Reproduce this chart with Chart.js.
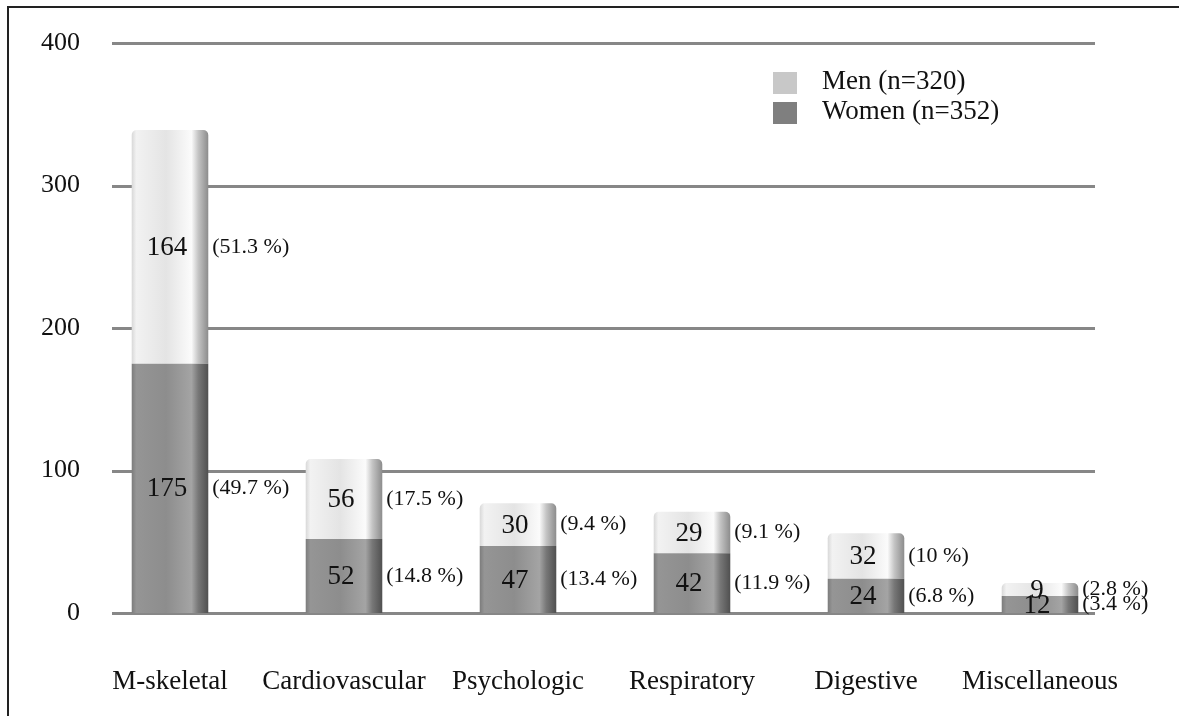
<!DOCTYPE html>
<html>
<head>
<meta charset="utf-8">
<script src="https://cdn.jsdelivr.net/npm/chart.js@4/dist/chart.umd.min.js"></script>
<style>
  html, body { margin: 0; padding: 0; background: #fff; }
  #wrap { position: relative; width: 1179px; height: 716px; overflow: hidden; }
  #frame { position: absolute; left: 7px; top: 6px; right: -10px; bottom: -10px;
           border-top: 2px solid #222; border-left: 2px solid #222; }
  #c { position: absolute; left: 0; top: 0; }
</style>
</head>
<body>
<div id="wrap">
  <div id="frame"></div>
  <canvas id="c" width="1179" height="716"></canvas>
</div>
<script>
// données
const categories = ['M-skeletal', 'Cardiovascular', 'Psychologic', 'Respiratory', 'Digestive', 'Miscellaneous'];
const women = [175, 52, 47, 42, 24, 12];
const men = [164, 56, 30, 29, 32, 9];
const womenPct = ['49.7', '14.8', '13.4', '11.9', '6.8', '3.4'];
const menPct = ['51.3', '17.5', '9.4', '9.1', '10', '2.8'];
const yTicks = [0, 100, 200, 300, 400];

const SERIF = '"Liberation Serif", "DejaVu Serif", serif';
const BAR_PCT = 0.44;

// dégradé horizontal pour l'effet "cylindre"
function barFill(light) {
  return ctx => {
    const chart = ctx.chart;
    const xs = chart.scales && chart.scales.x;
    const flat = light ? '#e6e6e6' : '#8e8e8e';
    if (!xs || ctx.dataIndex === undefined) return flat;
    const cx = xs.getPixelForValue(ctx.dataIndex);
    const w = xs.width / categories.length * BAR_PCT;
    if (!isFinite(cx) || !(w > 0)) return flat;
    const g = chart.ctx.createLinearGradient(cx - w / 2, 0, cx + w / 2, 0);
    if (light) {
      g.addColorStop(0, '#d8d8d8');
      g.addColorStop(0.06, '#f2f2f2');
      g.addColorStop(0.45, '#e4e4e4');
      g.addColorStop(0.78, '#fbfbfb');
      g.addColorStop(0.87, '#c4c4c4');
      g.addColorStop(1, '#8c8c8c');
    } else {
      g.addColorStop(0, '#7c7c7c');
      g.addColorStop(0.06, '#959595');
      g.addColorStop(0.45, '#8d8d8d');
      g.addColorStop(0.78, '#a4a4a4');
      g.addColorStop(0.87, '#777777');
      g.addColorStop(1, '#505050');
    }
    return g;
  };
}

// lignes horizontales (plus courtes que la zone du graphique)
const gridLines = {
  id: 'gridLines',
  beforeDatasetsDraw(chart) {
    const { ctx, scales: { y } } = chart;
    ctx.save();
    ctx.strokeStyle = '#878787';
    ctx.lineWidth = 3;
    yTicks.forEach(v => {
      const py = Math.round(y.getPixelForValue(v)) + 0.5;
      ctx.beginPath();
      ctx.moveTo(112, py);
      ctx.lineTo(1095, py);
      ctx.stroke();
    });
    ctx.restore();
  }
};

// valeurs dans les barres + pourcentages à droite
const valueLabels = {
  id: 'valueLabels',
  afterDatasetsDraw(chart) {
    const { ctx } = chart;
    const pcts = [womenPct, menPct];
    ctx.save();
    ctx.fillStyle = '#111';
    ctx.textBaseline = 'middle';
    chart.data.datasets.forEach((ds, di) => {
      chart.getDatasetMeta(di).data.forEach((el, i) => {
        const mid = (el.y + el.base) / 2;
        ctx.font = '27px ' + SERIF;
        ctx.textAlign = 'center';
        ctx.fillText(String(ds.data[i]), el.x - 3, mid + 1);
        ctx.font = '22px ' + SERIF;
        ctx.textAlign = 'left';
        ctx.fillText('(' + pcts[di][i] + ' %)', el.x + el.width / 2 + 4, mid);
      });
    });
    ctx.restore();
  }
};

// légende en haut à droite
const legendBox = {
  id: 'legendBox',
  afterDraw(chart) {
    const { ctx } = chart;
    const items = [
      { label: 'Men (n=320)', color: '#c8c8c8', y: 72 },
      { label: 'Women (n=352)', color: '#7f7f7f', y: 102 },
    ];
    ctx.save();
    ctx.font = '27px ' + SERIF;
    ctx.textBaseline = 'middle';
    ctx.textAlign = 'left';
    items.forEach(it => {
      ctx.fillStyle = it.color;
      ctx.fillRect(773, it.y, 24, 22);
      ctx.fillStyle = '#111';
      ctx.fillText(it.label, 822, it.y + 10);
    });
    ctx.restore();
  }
};

new Chart(document.getElementById('c'), {
  type: 'bar',
  data: {
    labels: categories,
    datasets: [
      { label: 'Women (n=352)', data: women, backgroundColor: barFill(false), borderWidth: 0 },
      { label: 'Men (n=320)', data: men, backgroundColor: barFill(true), borderWidth: 0,
        borderRadius: { topLeft: 5, topRight: 5 }, borderSkipped: 'bottom' },
    ]
  },
  options: {
    responsive: false,
    animation: false,
    layout: { padding: { top: 43, right: 52, left: 0, bottom: 0 } },
    datasets: { bar: { barPercentage: BAR_PCT, categoryPercentage: 1 } },
    plugins: { legend: { display: false }, tooltip: { enabled: false } },
    scales: {
      x: {
        stacked: true,
        grid: { display: false, drawTicks: false },
        border: { display: false },
        ticks: { color: '#111', padding: 53, font: { family: SERIF, size: 27 } },
        afterFit: s => { s.height = 103; }
      },
      y: {
        stacked: true,
        min: 0, max: 400,
        grid: { display: false, drawTicks: false },
        border: { display: false },
        ticks: { stepSize: 100, color: '#111', padding: 3, font: { family: SERIF, size: 26 } },
        afterFit: s => { s.width = 83; }
      }
    }
  },
  plugins: [gridLines, valueLabels, legendBox]
});
</script>
</body>
</html>
